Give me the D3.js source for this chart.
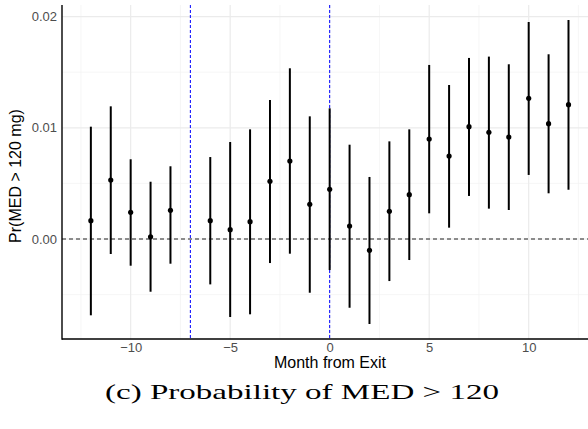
<!DOCTYPE html>
<html lang="en">
<head>
<meta charset="UTF-8">
<script src="https://cdnjs.cloudflare.com/ajax/libs/d3/7.8.5/d3.min.js"></script>
<style>
    body { margin: 0; background: #fff; }
    svg { display: block; }
</style>
</head>
<body>
<div id="chart"></div>
<script>
    // months from exit (no estimate at -7, the reference month)
    var months = [-12, -11, -10, -9, -8, -6, -5, -4, -3, -2, -1, 0, 1, 2, 3, 4, 5, 6, 7, 8, 9, 10, 11, 12];
    var estimate = [0.00165, 0.0053, 0.0024, 0.0002, 0.00258, 0.00165, 0.00084, 0.00156, 0.00519, 0.00701, 0.00312, 0.00447,
        0.00117, -0.00102, 0.00249, 0.00399, 0.00899, 0.00746, 0.0101, 0.0096, 0.00917, 0.01265, 0.01037, 0.01208];
    var upper = [0.0101, 0.01193, 0.00717, 0.00515, 0.00654, 0.00737, 0.00872, 0.00986, 0.0125, 0.01535, 0.01103, 0.01175,
        0.00848, 0.00558, 0.00878, 0.00986, 0.01565, 0.01385, 0.01628, 0.0164, 0.01571, 0.01951, 0.01661, 0.01969];
    var lower = [-0.00686, -0.00135, -0.0024, -0.00474, -0.00222, -0.00408, -0.00701, -0.00677, -0.00216, -0.00132, -0.00483, -0.00279,
        -0.00618, -0.00764, -0.00378, -0.00189, 0.00231, 0.00102, 0.00387, 0.00273, 0.00261, 0.00576, 0.00411, 0.00443];
    var xTicks = [-10, -5, 0, 5, 10];
    var xMinor = [-12.5, -7.5, -2.5, 2.5, 7.5, 12.5];
    var yTicks = [0, 0.01, 0.02];
    var yMinor = [-0.005, 0.005, 0.015];
    var eventLines = [-7, 0];

    var width = 588, height = 429;
    var pLeft = 62, pTop = 5, pRight = 588, pBottom = 339;
    var sans = "Liberation Sans, Arial, sans-serif";

    var svg = d3.select("#chart").append("svg")
        .attr("width", width)
        .attr("height", height);

    var x = d3.scaleLinear().domain([-13.45, 12.98]).range([pLeft, pRight]);
    var y = d3.scaleLinear().domain([-0.00899, 0.02104]).range([pBottom, pTop]);

    var grid = svg.append("g");
    grid.selectAll(".minx").data(xMinor).enter().append("line")
        .attr("x1", function (d) { return x(d); }).attr("x2", function (d) { return x(d); })
        .attr("y1", pTop).attr("y2", pBottom)
        .attr("stroke", "#f2f2f2").attr("stroke-width", 0.7);
    grid.selectAll(".miny").data(yMinor).enter().append("line")
        .attr("x1", pLeft).attr("x2", pRight)
        .attr("y1", function (d) { return y(d); }).attr("y2", function (d) { return y(d); })
        .attr("stroke", "#f2f2f2").attr("stroke-width", 0.7);
    grid.selectAll(".majx").data(xTicks).enter().append("line")
        .attr("x1", function (d) { return x(d); }).attr("x2", function (d) { return x(d); })
        .attr("y1", pTop).attr("y2", pBottom)
        .attr("stroke", "#ebebeb").attr("stroke-width", 1.2);
    grid.selectAll(".majy").data(yTicks).enter().append("line")
        .attr("x1", pLeft).attr("x2", pRight)
        .attr("y1", function (d) { return y(d); }).attr("y2", function (d) { return y(d); })
        .attr("stroke", "#ebebeb").attr("stroke-width", 1.2);

    // zero line
    svg.append("line")
        .attr("x1", pLeft).attr("x2", pRight)
        .attr("y1", y(0)).attr("y2", y(0))
        .attr("stroke", "#222").attr("stroke-width", 1)
        .attr("stroke-dasharray", "4,3");

    // exit lines
    svg.selectAll(".vline").data(eventLines).enter().append("line")
        .attr("x1", function (d) { return x(d); }).attr("x2", function (d) { return x(d); })
        .attr("y1", pTop).attr("y2", pBottom)
        .attr("stroke", "#0000ff").attr("stroke-width", 1)
        .attr("stroke-dasharray", "3,2");

    var pts = months.map(function (m, i) {
        return {m: m, est: estimate[i], lo: lower[i], hi: upper[i]};
    });

    svg.selectAll(".bar").data(pts).enter().append("line")
        .attr("x1", function (d) { return x(d.m); }).attr("x2", function (d) { return x(d.m); })
        .attr("y1", function (d) { return y(d.lo); }).attr("y2", function (d) { return y(d.hi); })
        .attr("stroke", "#000").attr("stroke-width", 2);

    svg.selectAll(".pt").data(pts).enter().append("circle")
        .attr("cx", function (d) { return x(d.m); })
        .attr("cy", function (d) { return y(d.est); })
        .attr("r", 2.6)
        .attr("fill", "#000");

    // axes
    var xAxis = svg.append("g")
        .attr("transform", "translate(0," + pBottom + ")")
        .call(d3.axisBottom(x).tickValues(xTicks).tickSize(0).tickPadding(4)
            .tickFormat(function (d) { return d < 0 ? "\u2212" + Math.abs(d) : d; }));
    xAxis.select(".domain").remove();
    xAxis.selectAll("text").attr("font-family", sans)
        .attr("font-size", 13).attr("fill", "#4d4d4d");

    var yAxis = svg.append("g")
        .attr("transform", "translate(" + pLeft + ",0)")
        .call(d3.axisLeft(y).tickValues(yTicks).tickSize(0).tickPadding(5).tickFormat(d3.format(".2f")));
    yAxis.select(".domain").remove();
    yAxis.selectAll("text").attr("font-family", sans)
        .attr("font-size", 13).attr("fill", "#4d4d4d");

    svg.append("line").attr("x1", pLeft).attr("x2", pLeft).attr("y1", pTop).attr("y2", pBottom + 0.7)
        .attr("stroke", "#000").attr("stroke-width", 1.4);
    svg.append("line").attr("x1", pLeft).attr("x2", pRight).attr("y1", pBottom).attr("y2", pBottom)
        .attr("stroke", "#000").attr("stroke-width", 1.4);

    svg.append("text")
        .attr("x", 330).attr("y", 368)
        .attr("text-anchor", "middle")
        .attr("font-family", sans)
        .attr("font-size", 16)
        .text("Month from Exit");

    svg.append("text")
        .attr("transform", "translate(21,176) rotate(-90)")
        .attr("text-anchor", "middle")
        .attr("font-family", sans)
        .attr("font-size", 16)
        .text("Pr(MED > 120 mg)");

    svg.append("text")
        .attr("x", 302).attr("y", 399)
        .attr("text-anchor", "middle")
        .attr("font-family", "Liberation Serif, Times New Roman, serif")
        .attr("font-size", 22)
        .attr("textLength", 394).attr("lengthAdjust", "spacingAndGlyphs")
        .text("(c) Probability of MED > 120");
</script>
</body>
</html>
